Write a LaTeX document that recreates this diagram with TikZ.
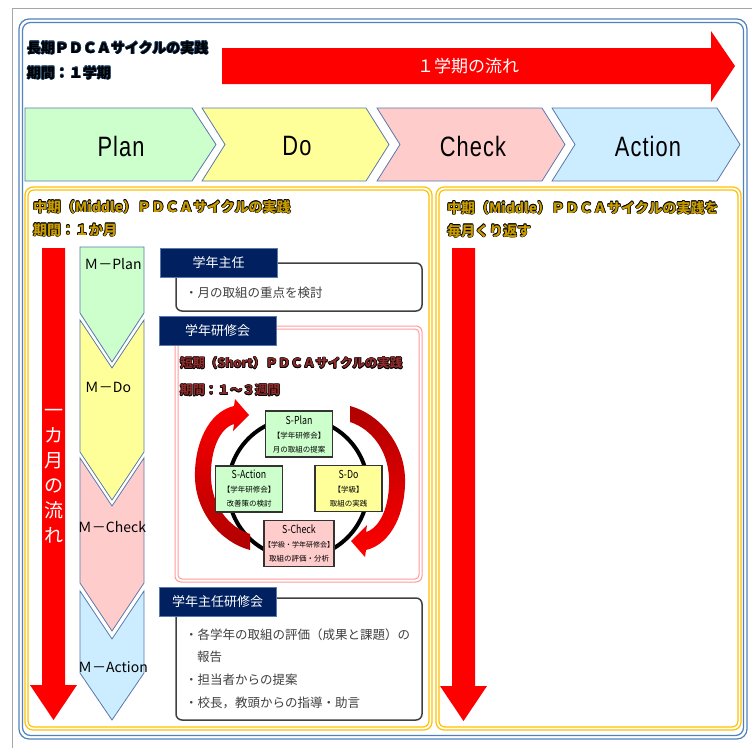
\documentclass[tikz,border=0pt]{standalone}
\usepackage{fontspec}
\usepackage{graphicx}
\setmainfont{Noto Sans CJK JP}
\newfontfamily\chevfont{Liberation Sans}[LetterSpace=5]
\newcommand{\myfs}[1]{\fontsize{#1}{#1}\selectfont}
\newcommand{\outl}[3]{{\setbox0=\hbox{#3}%
\rlap{\color{#2}\kern-.6pt\copy0}%
\rlap{\color{#2}\kern.6pt\copy0}%
\rlap{\color{#2}\raise.6pt\copy0}%
\rlap{\color{#2}\raise-.6pt\copy0}%
\rlap{\color{#2}\kern.42pt\raise.42pt\copy0}%
\rlap{\color{#2}\kern-.42pt\raise.42pt\copy0}%
\rlap{\color{#2}\kern.42pt\raise-.42pt\copy0}%
\rlap{\color{#2}\kern-.42pt\raise-.42pt\copy0}%
{\color{#1}\copy0}}}
\definecolor{navyh}{HTML}{002060}
\definecolor{frameblue}{HTML}{4F81BD}
\definecolor{goldc}{HTML}{FFC000}
\definecolor{chevedge}{HTML}{5A78AA}
\definecolor{cgreen}{HTML}{CCFFCC}
\definecolor{cyellow}{HTML}{FFFF99}
\definecolor{cpink}{HTML}{FFCCCC}
\definecolor{cblue}{HTML}{CCECFF}
\definecolor{pinkline}{HTML}{FF9999}
\definecolor{txtgray}{HTML}{404040}
\definecolor{darkred}{HTML}{B00000}
\definecolor{midgold}{HTML}{C89B00}
\definecolor{shortred}{HTML}{8E2B2B}
\definecolor{titleedge}{HTML}{24476E}
\definecolor{boxedge}{HTML}{333333}
\begin{document}
\begin{tikzpicture}[x=1pt,y=-1pt,
  txt/.style={inner sep=0pt, outer sep=0pt},
  chevron/.style={draw=chevedge, line width=0.8pt},
  hdrbox/.style={fill=navyh, draw=chevedge, line width=0.6pt, text=white,
    minimum width=117pt, minimum height=29pt, inner sep=0pt, font=\myfs{13}},
  sbox/.style={draw=boxedge, line width=1.5pt, minimum width=67pt, minimum height=46pt,
    inner sep=0pt, align=center, font=\fontsize{7.5}{14}\selectfont},
  infobox/.style={draw=txtgray, line width=1.5pt, fill=white, rounded corners=6pt},
  goldbox/.style={draw=goldc, line width=1.2pt},
  bluebox/.style={draw=frameblue, line width=1.2pt},
  bodytxt/.style={txt, anchor=west, text=txtgray, font=\myfs{12.5}},
  mlabel/.style={txt, font=\myfs{14}},
  chevlabel/.style={txt, font=\chevfont\myfs{28}},
  redarrow/.style={fill=red}
]
\useasboundingbox (0,0) rectangle (752,747);

% outer thin frame and blue double frame
\draw[gray!70, line width=0.8pt] (12,760) -- (12,8) -- (760,8);
\draw[bluebox, rounded corners=10pt] (19,19) rectangle (747,739);
\draw[bluebox, rounded corners=8pt] (22.5,22.5) rectangle (743.5,735.5);

% top title
\node[txt, anchor=west, font=\bfseries\myfs{14}] (lt1) at (27,48) {\outl{black}{titleedge}{長期ＰＤＣＡサイクルの実践}};
\node[txt, anchor=west, font=\bfseries\myfs{14}] (lt2) at (27,73) {\outl{black}{titleedge}{期間：１学期}};

% top arrow
\fill[redarrow] (222,48) -- (711,48) -- (711,31) -- (735,66) -- (711,102) -- (711,84) -- (222,84) -- cycle;
\node[txt, text=white, font=\myfs{17}] (flow1) at (468,66) {１学期の流れ};

% PDCA chevrons
\draw[chevron, fill=cgreen] (25,108) -- (192,108) -- (216,144.5) -- (192,181) -- (25,181) -- cycle;
\draw[chevron, fill=cyellow] (202,108) -- (366,108) -- (389,144.5) -- (366,181) -- (202,181) -- (225,144.5) -- cycle;
\draw[chevron, fill=cpink] (377,108) -- (542,108) -- (565,144.5) -- (542,181) -- (377,181) -- (400,144.5) -- cycle;
\draw[chevron, fill=cblue] (552,108) -- (717,108) -- (740,144.5) -- (717,181) -- (552,181) -- (575,144.5) -- cycle;
\node[chevlabel] (cplan) at (121,146) {\scalebox{0.78}[1]{Plan}};
\node[chevlabel] (cdo) at (297,146) {\scalebox{0.78}[1]{Do}};
\node[chevlabel] (ccheck) at (473,146) {\scalebox{0.78}[1]{Check}};
\node[chevlabel] (caction) at (648,146) {\scalebox{0.78}[1]{Action}};

% gold panels
\draw[goldbox, rounded corners=8pt] (25,187) rectangle (432,730);
\draw[goldbox, rounded corners=6pt] (28,190) rectangle (429,727);
\draw[goldbox, rounded corners=8pt] (436,187) rectangle (741,730);
\draw[goldbox, rounded corners=6pt] (439,190) rectangle (738,727);

% panel titles
\node[txt, anchor=west, font=\bfseries\myfs{14}] (mt1) at (33,207) {\outl{midgold}{black}{中期（Middle）ＰＤＣＡサイクルの実践}};
\node[txt, anchor=west, font=\bfseries\myfs{14}] (mt2) at (33,230) {\outl{midgold}{black}{期間：１か月}};
\node[txt, anchor=west, font=\bfseries\myfs{14}] (rt1) at (447,208) {\outl{midgold}{black}{中期（Middle）ＰＤＣＡサイクルの実践を}};
\node[txt, anchor=west, font=\bfseries\myfs{14}] (rt2) at (447,231) {\outl{midgold}{black}{毎月くり返す}};

% red down arrows
\fill[redarrow] (42,248) -- (65,248) -- (65,685) -- (77,685) -- (53.5,720) -- (30,685) -- (42,685) -- cycle;
\fill[redarrow] (452,248) -- (475,248) -- (475,686) -- (487,686) -- (463.5,721) -- (440,686) -- (452,686) -- cycle;
\node[txt, text=white, font=\fontsize{19}{25}\selectfont, align=center] (vtext) at (53.5,476) {一\\カ\\月\\の\\流\\れ};

% M column
\draw[chevron, fill=cgreen] (80,247) -- (144,247) -- (144,313) -- (112,362) -- (80,313) -- cycle;
\draw[chevron, fill=cyellow] (80,320) -- (112,368) -- (144,320) -- (144,452) -- (112,500) -- (80,452) -- cycle;
\draw[chevron, fill=cpink] (80,458) -- (112,506) -- (144,458) -- (144,583) -- (112,631) -- (80,583) -- cycle;
\draw[chevron, fill=cblue] (80,591) -- (112,639) -- (144,591) -- (144,673) -- (112,720) -- (80,673) -- cycle;
\node[mlabel] (mplan) at (113,264) {Ｍ－Plan};
\node[mlabel] (mdo) at (108,387) {Ｍ－Do};
\node[mlabel] (mcheck) at (112,527) {Ｍ－Check};
\node[mlabel] (maction) at (113,667) {Ｍ－Action};

% info boxes
\draw[infobox] (176,263) rectangle (422,311);
\draw[pinkline, line width=1pt, rounded corners=6pt] (175,326) rectangle (422,582);
\draw[pinkline, line width=1pt, rounded corners=4pt] (178,329) rectangle (419,579);
\draw[infobox] (176,598) rectangle (422,720);

\node[bodytxt] (b1t) at (185,293) {・月の取組の重点を検討};
\node[bodytxt] (b3t1) at (185,635) {・各学年の取組の評価（成果と課題）の};
\node[bodytxt] (b3t2) at (197,657) {報告};
\node[bodytxt] (b3t3) at (185,680) {・担当者からの提案};
\node[bodytxt] (b3t4) at (185,703) {・校長，教頭からの指導・助言};

% headers
\node[hdrbox] (h1) at (218.5,262.5) {学年主任};
\node[hdrbox] (h2) at (217.5,330.5) {学年研修会};
\node[hdrbox] (h3) at (217.5,601.5) {学年主任研修会};

% short cycle titles
\node[txt, anchor=west, font=\bfseries\myfs{12.5}] (st1) at (180,363) {\outl{shortred}{black}{短期（Short）ＰＤＣＡサイクルの実践}};
\node[txt, anchor=west, font=\bfseries\myfs{12.5}] (st2) at (180,390) {\outl{shortred}{black}{期間：１～３週間}};

% cycle circle
\draw[line width=4pt] (298,488) circle [radius=70];

% curved arrows
\shade[top color=red, bottom color=darkred]
  (234,406) .. controls (208,412) and (194,445) .. (195,478)
  .. controls (196,512) and (220,542) .. (250,550)
  -- (250,534)
  .. controls (228,527) and (212,505) .. (211,478)
  .. controls (210,450) and (220,428) .. (234,424)
  -- (233,431) -- (249,415) -- (235,399) -- cycle;
\shade[top color=darkred, bottom color=red]
  (366,550) .. controls (392,544) and (406,511) .. (405,478)
  .. controls (404,444) and (380,414) .. (350,406)
  -- (350,422)
  .. controls (372,429) and (388,451) .. (389,478)
  .. controls (390,506) and (380,528) .. (366,532)
  -- (367,525) -- (351,541) -- (365,557) -- cycle;

% S boxes
\node[sbox, fill=cgreen] (sp) at (299,434) {{\myfs{11}\scalebox{0.8}[1]{S-Plan}}\\【学年研修会】\\月の取組の提案};
\node[sbox, fill=cyellow] (sd) at (348.5,488.5) {{\myfs{11}\scalebox{0.8}[1]{S-Do}}\\【学級】\\取組の実践};
\node[sbox, fill=cgreen] (sa) at (249,489) {{\myfs{11}\scalebox{0.8}[1]{S-Action}}\\【学年研修会】\\改善策の検討};
\node[sbox, fill=cpink] (sc) at (299,543.5) {{\myfs{11}\scalebox{0.8}[1]{S-Check}}\\{\fontsize{7}{14}\selectfont【学級・学年研修会】}\\取組の評価・分析};
\end{tikzpicture}
\end{document}
